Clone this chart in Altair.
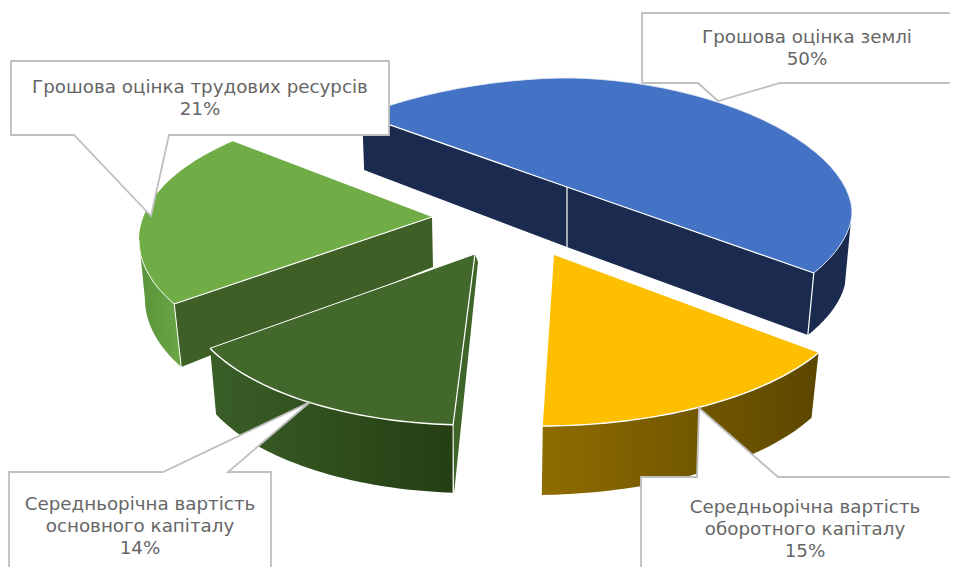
import math
import altair as alt

# ---- chart values ----
names = ["Грошова оцінка землі", "Середньорічна вартість оборотного капіталу",
         "Середньорічна вартість основного капіталу", "Грошова оцінка трудових ресурсів"]
shares = [50, 15, 14, 21]
label_lines = [["Грошова оцінка землі", "50%"],
               ["Середньорічна вартість", "оборотного капіталу", "15%"],
               ["Середньорічна вартість", "основного капіталу", "14%"],
               ["Грошова оцінка трудових ресурсів", "21%"]]

# ---- view geometry of the tilted, exploded pie (page pixels) ----
OFF = 8
W, H = 942, 559
top_colors = ["#4472c4", "#fdbf00", "#43682b", "#70ad47"]
view = [
    dict(apex=(567, 187), c=(567, 212), aL=315, aR=285, b=134, n=1.85, t0=227.8, k=0.895),
    dict(apex=(554, 255), c=(540, 290), aL=314, aR=314, b=136, n=2.0, t0=27.5, k=1.148),
    dict(apex=(475, 254), c=(470, 295), aL=285, aR=285, b=130, n=2.0, t0=93.4, k=1.238),
    dict(apex=(432, 217), c=(434, 240), aL=295, aR=295, b=135, n=2.0, t0=151.7, k=0.996),
]


def pt(v, t):
    r = math.radians(t)
    c, s = math.cos(r), math.sin(r)
    e = 2 / v["n"]
    a = v["aR"] if c >= 0 else v["aL"]
    return (v["c"][0] + a * math.copysign(abs(c) ** e, c),
            v["c"][1] + v["b"] * math.copysign(abs(s) ** e, s))


def arc(v, t_a, t_b, shift_a=(0, 0), shift_b=(0, 0), steps=48):
    out = []
    for i in range(steps + 1):
        f = i / steps
        x, y = pt(v, t_a + (t_b - t_a) * f)
        out.append((x + shift_a[0] + (shift_b[0] - shift_a[0]) * f,
                    y + shift_a[1] + (shift_b[1] - shift_a[1]) * f))
    return out


def t_range(i):
    v = view[i]
    return v["t0"], v["t0"] + shares[i] * 3.6 * v["k"]


def feat(coords, closed=True):
    pts = [[x - OFF, y - OFF] for x, y in coords]
    if closed:
        pts = pts + [pts[0]]
        geom = {"type": "Polygon", "coordinates": [pts]}
    else:
        geom = {"type": "LineString", "coordinates": pts}
    return {"type": "Feature", "geometry": geom, "properties": {}}


proj = dict(type="identity", scale=1, translate=[0, 0])


def shape(coords, closed=True, **style):
    data = alt.InlineData(values={"type": "FeatureCollection", "features": [feat(coords, closed)]},
                          format=alt.DataFormat(property="features", type="json"))
    return alt.Chart(data).mark_geoshape(**style).project(**proj)


def grad(a, b):
    return alt.Gradient(gradient="linear", x1=0, x2=1, y1=0, y2=0,
                        stops=[alt.GradientStop(color=a, offset=0), alt.GradientStop(color=b, offset=1)])


def edge(coords, width=1.2, color="#ffffff"):
    return shape(coords, closed=False, filled=False, stroke=color, strokeWidth=width)


def top(i):
    a, b = t_range(i)
    return shape([view[i]["apex"]] + arc(view[i], a, b), fill=top_colors[i], stroke=None)


def wall(i, t_a, t_b, s_a, s_b, fill):
    up = arc(view[i], t_a, t_b)
    down = arc(view[i], t_a, t_b, s_a, s_b)
    return shape(up + down[::-1], fill=fill)


layers = []

# blue slice
b0, b1 = t_range(0)
A = view[0]["apex"]
P0, P1 = pt(view[0], b0), pt(view[0], b1)
NAVY = "#1a2b4f"
layers += [
    shape([P0, A, (A[0], A[1] + 60), (P0[0] + 2, P0[1] + 55)], fill=NAVY),
    shape([A, P1, (P1[0] - 6, P1[1] + 62), (A[0], A[1] + 60)], fill=NAVY),
    wall(0, b1 - 24, b1, (-6, 63), (-6, 62), NAVY),
    top(0),
    edge([P0, A, P1]),
    edge(arc(view[0], b0, b1), 0.8, "#e8edf6"),
    edge([A, (A[0], A[1] + 60)]),
    edge([P1, (P1[0] - 6, P1[1] + 62)]),
]

# light green slice
g0, g1 = t_range(3)
A = view[3]["apex"]
P0 = pt(view[3], g0)
layers += [
    shape([P0, A, (A[0] + 1, A[1] + 50), (P0[0] + 7, P0[1] + 63)], fill="#3e5f26"),
    wall(3, g0, 180, (7, 63), (6, 60), grad("#5a933a", "#6aa746")),
    top(3),
    edge([P0, A]),
    edge([P0, (P0[0] + 7, P0[1] + 63)], 1.0),
    edge(arc(view[3], g0, 180), 1.0),
]

# yellow slice
y0, y1 = t_range(1)
layers += [
    wall(1, y0, y1, (-7, 65), (-1, 69), grad("#8f6c00", "#5c4700")),
    top(1),
    edge(arc(view[1], y0, y1), 1.4),
]

# dark green slice
d0, d1 = t_range(2)
A = view[2]["apex"]
P0 = pt(view[2], d0)
layers += [
    shape([A, (A[0] + 3, A[1] + 8), (P0[0] + 1, P0[1] + 68), P0], fill="#3f6428"),
    wall(2, d0, d1, (0, 68), (6, 66), grad("#3a5f27", "#253e13")),
    top(2),
    edge([P0, A]),
    edge(arc(view[2], d0, d1), 1.4),
    edge([P0, (P0[0], P0[1] + 68)], 1.0),
    edge([pt(view[2], d1), A], 1.0),
]

# callouts
boxes = [
    [(642, 13), (642, 83), (698, 83), (718, 101), (780, 83), (970, 83), (970, 13)],
    [(641, 590), (641, 477), (697, 477), (699, 408), (778, 477), (970, 477), (970, 590)],
    [(9, 590), (9, 472), (163, 472), (310, 402), (228, 472), (271, 472), (271, 590)],
    [(11, 61), (11, 135), (74, 135), (151, 216), (169, 135), (389, 135), (389, 61)],
]
for b in boxes:
    layers.append(shape(b, fill="#ffffff", stroke="#bfbfbf", strokeWidth=1.8))

# texts
centers = [807, 805, 140, 200]
first_y = [38, 508, 505, 88]
rows = []
for cx, fy, lines in zip(centers, first_y, label_lines):
    for j, line in enumerate(lines):
        rows.append({"lon": cx - OFF, "lat": fy + j * 22 - OFF, "txt": line})
text = alt.Chart(alt.Data(values=rows)).mark_text(
    font="DejaVu Sans", fontSize=18.3, color="#666666", align="center", baseline="middle"
).encode(longitude="lon:Q", latitude="lat:Q", text="txt:N").project(**proj)
layers.append(text)

chart = alt.layer(*layers).properties(
    width=W, height=H, padding=0, autosize=alt.AutoSizeParams(type="none")
).configure_view(stroke=None)

chart.save("out.html", embed_options={"renderer": "svg", "actions": False})
